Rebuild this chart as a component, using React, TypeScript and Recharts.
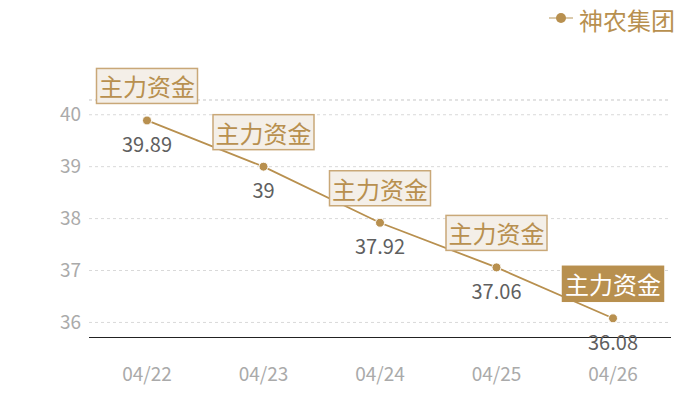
import React from 'react';
import { LineChart, Line, XAxis, YAxis, CartesianGrid, ReferenceLine, LabelList } from 'recharts';

// 神农集团 收盘价
const dates = ['04/22', '04/23', '04/24', '04/25', '04/26'];
const prices = [39.89, 39, 37.92, 37.06, 36.08];
const yTicks = [36, 37, 38, 39, 40];
const tagText = '主力资金';
const seriesName = '神农集团';

const GOLD = '#b8904f';
const FONT = '"Noto Sans CJK SC", "Noto Sans", sans-serif';

const data = dates.map((d, i) => ({ date: d, price: prices[i] }));

const TagLabel = (props: any) => {
  const { x, y, index } = props;
  const last = index === dates.length - 1;
  const w = 101;
  const h = 35;
  return (
    <g>
      <rect
        x={x - w / 2}
        y={y - 17 - h}
        width={w}
        height={h}
        fill={last ? GOLD : '#f4efe8'}
        stroke={last ? GOLD : '#c9a878'}
        strokeWidth={1.5}
      />
      <text
        x={x}
        y={y - 17 - h / 2}
        textAnchor="middle"
        dominantBaseline="central"
        fill={last ? '#fff' : GOLD}
        fontSize={24}
        fontFamily={FONT}
      >
        {tagText}
      </text>
    </g>
  );
};

const ValueLabel = (props: any) => {
  const { x, y, value } = props;
  return (
    <text
      x={x}
      y={y + 23}
      textAnchor="middle"
      dominantBaseline="central"
      fill="#5f5f5f"
      fontSize={20}
      fontFamily={FONT}
    >
      {value}
    </text>
  );
};

const LegendBox = () => (
  <svg width={140} height={34} style={{ position: 'absolute', left: 547, top: 1 }}>
    <line x1={2} y1={17} x2={26} y2={17} stroke="#cfb88f" strokeWidth={1.5} />
    <circle cx={14} cy={17} r={5} fill={GOLD} />
    <text x={32} y={18} dominantBaseline="central" fill={GOLD} fontSize={24} fontFamily={FONT}>
      {seriesName}
    </text>
  </svg>
);

export default function App() {
  return (
    <div style={{ position: 'relative', width: 700, height: 400, fontFamily: FONT }}>
      <style>{'body{margin:0}'}</style>
      <LineChart width={700} height={400} data={data} margin={{ top: 100, right: 29, left: 0, bottom: 32.5 }}>
        <CartesianGrid vertical={false} stroke="#d9d9d9" strokeDasharray="3 3" />
        <ReferenceLine y={40.284} stroke="#d9d9d9" strokeDasharray="3 3" />
        <XAxis
          dataKey="date"
          stroke="#222"
          tickLine={false}
          axisLine={{ stroke: '#222', strokeWidth: 1 }}
          tickMargin={24}
          padding={{ left: 58, right: 58 }}
          tick={{ fill: '#aaa', fontSize: 19, fontFamily: FONT }}
        />
        <YAxis
          width={89}
          domain={[35.71, 40.284]}
          ticks={yTicks}
          axisLine={false}
          tickLine={false}
          tick={{ fill: '#aaa', fontSize: 19, fontFamily: FONT }}
          allowDataOverflow
        />
        <Line
          type="linear"
          dataKey="price"
          name={seriesName}
          stroke={GOLD}
          strokeWidth={1.8}
          dot={{ r: 4.5, fill: GOLD, stroke: '#fff', strokeWidth: 1 }}
          isAnimationActive={false}
        >
          <LabelList dataKey="price" content={<ValueLabel />} />
          <LabelList dataKey="price" content={<TagLabel />} />
        </Line>
      </LineChart>
      <LegendBox />
    </div>
  );
}
